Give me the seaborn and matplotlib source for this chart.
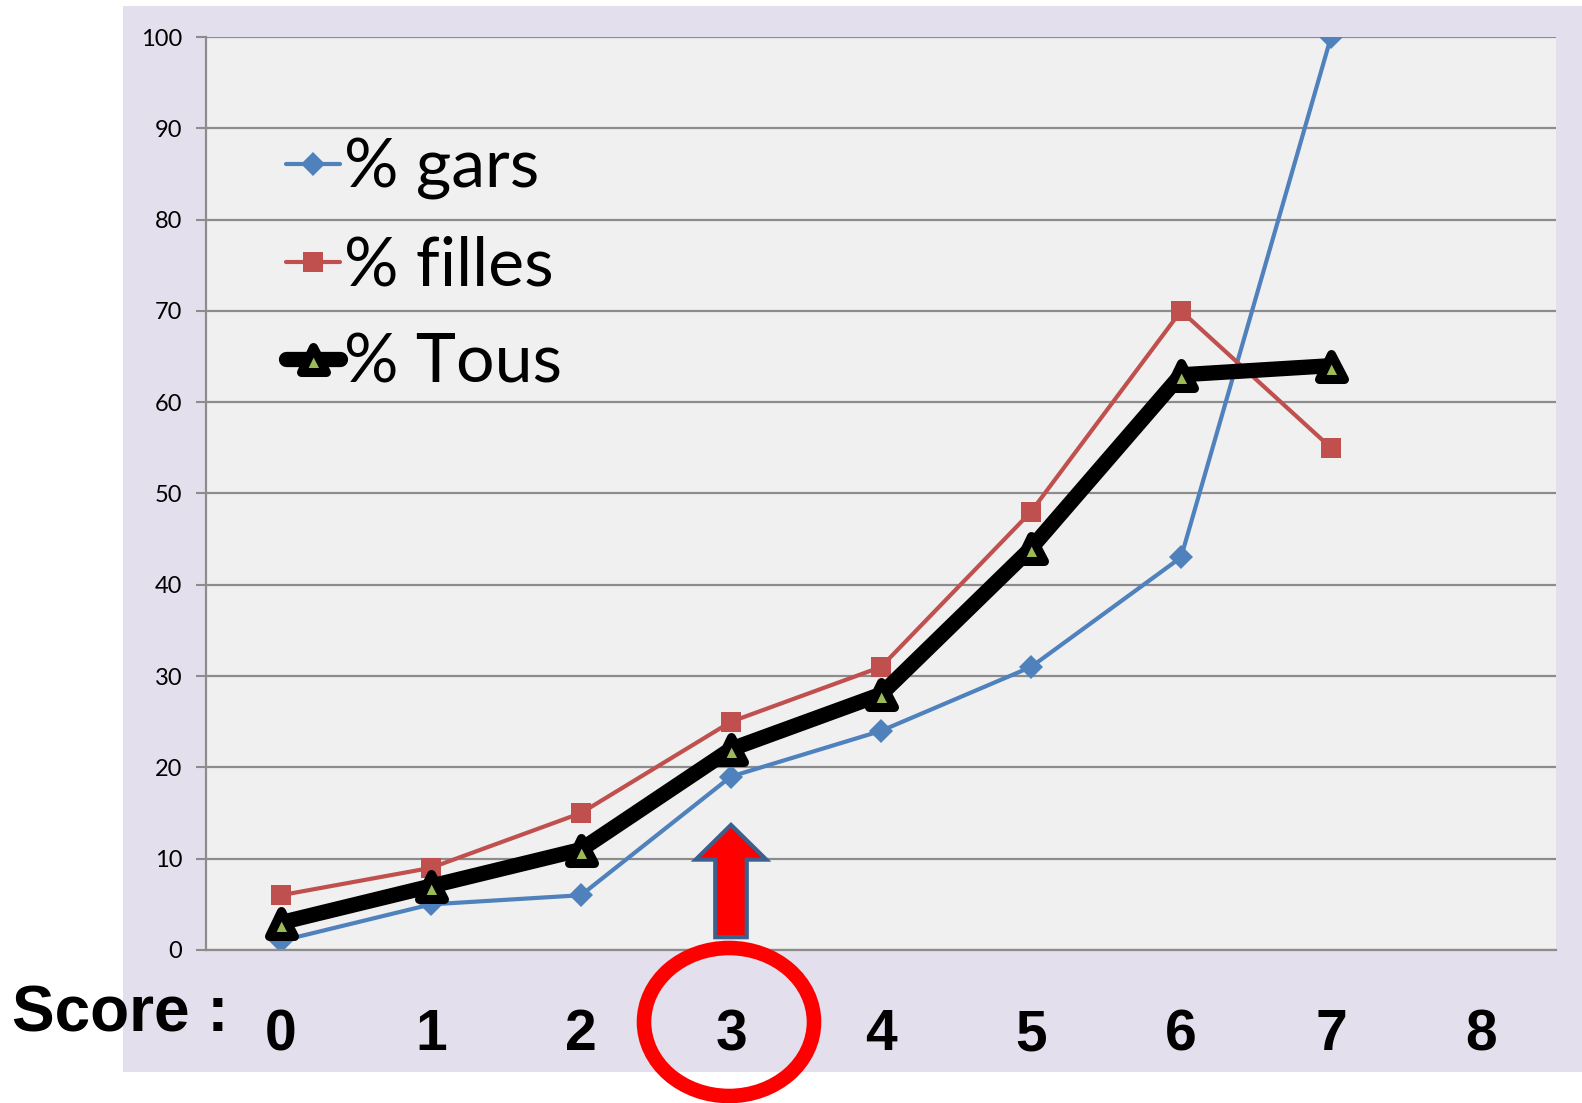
import seaborn as sns
import pandas as pd
import matplotlib.pyplot as plt
from matplotlib.markers import MarkerStyle
from matplotlib.patches import Rectangle, Ellipse, FancyArrow

# donnees
scores = [0, 1, 2, 3, 4, 5, 6, 7]
pct_gars = [1, 5, 6, 19, 24, 31, 43, 100]
pct_filles = [6, 9, 15, 25, 31, 48, 70, 55]
pct_tous = [3, 7, 11, 22, 28, 44, 63, 64]
x_labels = ["0", "1", "2", "3", "4", "5", "6", "7", "8"]
y_ticks = [0, 10, 20, 30, 40, 50, 60, 70, 80, 90, 100]

df = pd.DataFrame({"score": scores, "gars": pct_gars, "filles": pct_filles, "tous": pct_tous})

sns.set_style("white")
plt.rcParams["font.family"] = ["Lato", "DejaVu Sans"]
plt.rcParams["text.color"] = "black"
plt.rcParams["xtick.color"] = "black"
plt.rcParams["ytick.color"] = "black"

W, H = 1582, 1103
fig = plt.figure(figsize=(W / 100, H / 100), dpi=100)

# fond lavande
fig.patches.append(Rectangle((123 / W, 1 - 1072 / H), 1 - 123 / W, (1072 - 6) / H,
                             transform=fig.transFigure, facecolor="#E4DFEC", edgecolor="none", zorder=-5))

ax = fig.add_axes([206 / W, 1 - 950 / H, (1556 - 206) / W, (950 - 37) / H])
ax.set_facecolor("#F0F0F0")

sns.lineplot(data=df, x="score", y="gars", ax=ax, label="% gars", color="#4F81BD",
             linewidth=3, marker="D", markersize=12, markeredgewidth=0)
sns.lineplot(data=df, x="score", y="filles", ax=ax, label="% filles", color="#C0504D",
             linewidth=3, marker="s", markersize=14, markeredgewidth=0)
sns.lineplot(data=df, x="score", y="tous", ax=ax, label="% Tous", color="black",
             linewidth=11, marker=MarkerStyle("^", joinstyle="round"), markersize=18,
             markerfacecolor="#9BBB59", markeredgecolor="black", markeredgewidth=6.5)
for l in ax.lines:
    l.set_solid_joinstyle("round")
    l.set_solid_capstyle("round")

# axes
ax.set_xlim(-0.5, 8.5)
ax.set_ylim(0, 100)
ax.set_xticks([i - 0.5 for i in range(10)])
ax.set_xticklabels([])
ax.set_xticks(range(9), minor=True)
ax.set_xticklabels(x_labels, minor=True, fontsize=41, fontweight="bold",
                   family=["Liberation Sans Narrow", "Liberation Sans", "DejaVu Sans"])
ax.tick_params(axis="x", which="minor", length=0, pad=42)
ax.tick_params(axis="x", which="major", length=13, width=1.5, color="#8C8C8C", direction="out")
ax.set_yticks(y_ticks)
ax.set_yticklabels([str(v) for v in y_ticks], fontsize=17)
ax.tick_params(axis="y", length=7, width=1.5, color="#8C8C8C", pad=10, left=True)
ax.yaxis.grid(True, color="#8C8C8C", linewidth=1.6)
ax.xaxis.grid(False)
ax.set_axisbelow(True)
for s in ["top", "right"]:
    ax.spines[s].set_visible(False)
for s in ["left", "bottom"]:
    ax.spines[s].set_color("#8C8C8C")
    ax.spines[s].set_linewidth(1.6)
ax.set_xlabel("")
ax.set_ylabel("")

leg = ax.legend(loc="upper left", bbox_to_anchor=(0.034, 0.927), frameon=False, fontsize=49,
                handlelength=0.8, handletextpad=0.05, labelspacing=0.52, borderpad=0)

# fleche et cercle
ax.add_patch(FancyArrow(3, 1.4, 0, 12.3, width=0.21, head_width=0.47, head_length=3.8,
                        length_includes_head=True, facecolor="red", edgecolor="#3D5F8C",
                        linewidth=3, zorder=5))
fig.patches.append(Ellipse((729 / W, 1 - 1022 / H), 170 / W, 148 / H, transform=fig.transFigure,
                           fill=False, edgecolor="red", linewidth=10.5, zorder=5))

fig.text(12 / W, 1 - 1032 / H, "Score :", fontsize=46, fontweight="bold", color="black",
         family=["Liberation Sans", "DejaVu Sans"], va="baseline", ha="left")

fig.savefig("out.png", dpi=100)
